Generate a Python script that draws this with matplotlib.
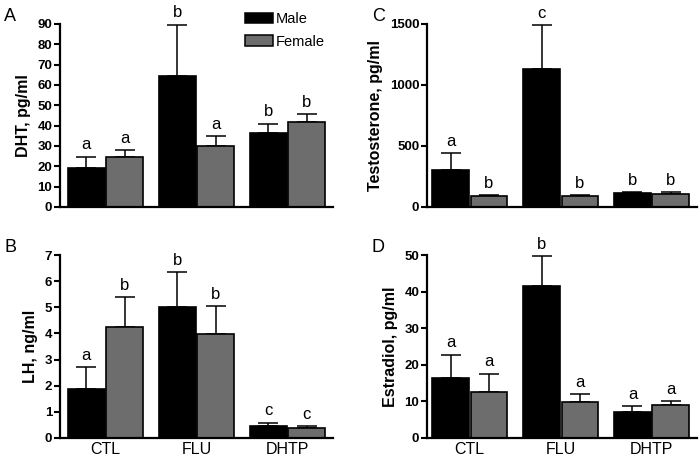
import matplotlib
matplotlib.use("Agg")
import matplotlib.pyplot as plt
import numpy as np
from matplotlib.patches import Patch

plt.rcParams['font.family'] = ['Liberation Sans', 'DejaVu Sans']

groups = ["CTL", "FLU", "DHTP"]

# Panel A: DHT, pg/ml
dht_male = [19.3, 64.3, 36.6]
dht_male_err = [5.5, 25.4, 4.4]
dht_female = [24.6, 30.0, 42.0]
dht_female_err = [3.3, 4.8, 3.9]
dht_male_sig = ["a", "b", "b"]
dht_female_sig = ["a", "a", "b"]

# Panel B: LH, ng/ml
lh_male = [1.88, 5.01, 0.47]
lh_male_err = [0.82, 1.35, 0.12]
lh_female = [4.23, 3.97, 0.40]
lh_female_err = [1.17, 1.08, 0.07]
lh_male_sig = ["a", "b", "c"]
lh_female_sig = ["b", "b", "c"]

# Panel C: Testosterone, pg/ml
t_male = [303, 1128, 112]
t_male_err = [137, 364, 8]
t_female = [87, 87, 104]
t_female_err = [9, 9, 19]
t_male_sig = ["a", "c", "b"]
t_female_sig = ["b", "b", "b"]

# Panel D: Estradiol, pg/ml
e_male = [16.4, 41.6, 7.2]
e_male_err = [6.4, 8.1, 1.5]
e_female = [12.5, 9.8, 9.0]
e_female_err = [5.1, 2.1, 1.2]
e_male_sig = ["a", "b", "a"]
e_female_sig = ["a", "a", "a"]

MALE_C = "#000000"
FEMALE_C = "#6d6d6d"

fig = plt.figure(figsize=(7.0, 4.59), dpi=100)

def panel(rect, m, me, f, fe, ms, fs, ylim, yticks, ylabel, letter, xlabels, xleft):
    ax = fig.add_axes(rect)
    x = np.arange(len(groups))
    off = 0.21
    w = 0.40
    for xs, vals, errs, col, sig in [(x - off, m, me, MALE_C, ms), (x + off, f, fe, FEMALE_C, fs)]:
        ax.bar(xs, vals, width=w, color=col, edgecolor="black", linewidth=1.2, zorder=2)
        ax.errorbar(xs, vals, yerr=[np.zeros(len(vals)), errs], fmt="none",
                    ecolor="black", elinewidth=1.1, capsize=7.5, capthick=1.1, zorder=1)
        for xi, v, e, s in zip(xs, vals, errs, sig):
            ax.annotate(s, (xi, v + e), xytext=(0, 3), textcoords="offset points",
                        ha="center", va="bottom", fontsize=12)
    ax.set_xlim(xleft, 2.5)
    ax.set_ylim(*ylim)
    ax.set_yticks(yticks)
    ax.set_yticklabels([str(t) for t in yticks], fontweight="bold", fontsize=9.5)
    ax.set_xticks(x)
    if xlabels:
        ax.set_xticklabels(groups, fontsize=11.5)
    else:
        ax.set_xticklabels([])
    ax.tick_params(axis="x", length=0, pad=3)
    ax.tick_params(axis="y", length=4, width=1.5, pad=1.5, direction="out")
    for s in ["top", "right"]:
        ax.spines[s].set_visible(False)
    for s in ["left", "bottom"]:
        ax.spines[s].set_linewidth(1.6)
    ax.set_ylabel(ylabel, fontsize=11.5, fontweight="bold", labelpad=5)
    ax.text(-0.205, 1.04, letter, transform=ax.transAxes, fontsize=13, ha="left", va="center")
    return ax

W, H = 700.0, 459.0
axA = panel([60/W, 1-207/H, 273/W, 183/H], dht_male, dht_male_err, dht_female, dht_female_err,
            dht_male_sig, dht_female_sig, (0, 90), list(range(0, 91, 10)), "DHT, pg/ml", "A", False, -0.5)
axB = panel([60/W, 1-438/H, 273/W, 183/H], lh_male, lh_male_err, lh_female, lh_female_err,
            lh_male_sig, lh_female_sig, (0, 7), list(range(0, 8)), "LH, ng/ml", "B", True, -0.5)
axC = panel([427/W, 1-207/H, 270/W, 183/H], t_male, t_male_err, t_female, t_female_err,
            t_male_sig, t_female_sig, (0, 1500), [0, 500, 1000, 1500], "Testosterone, pg/ml", "C", False, -0.47)
axD = panel([427/W, 1-438/H, 270/W, 183/H], e_male, e_male_err, e_female, e_female_err,
            e_male_sig, e_female_sig, (0, 50), [0, 10, 20, 30, 40, 50], "Estradiol, pg/ml", "D", True, -0.47)

handles = [Patch(facecolor=MALE_C, edgecolor="black", linewidth=1.1, label="Male"),
           Patch(facecolor=FEMALE_C, edgecolor="black", linewidth=1.1, label="Female")]
fig.legend(handles=handles, loc="upper left", bbox_to_anchor=(245/W, 1-12/H),
           frameon=False, fontsize=10.5, handlelength=1.9, handleheight=0.75,
           handletextpad=0.2, labelspacing=0.6, borderpad=0, borderaxespad=0)

fig.savefig("out.png", dpi=100)
